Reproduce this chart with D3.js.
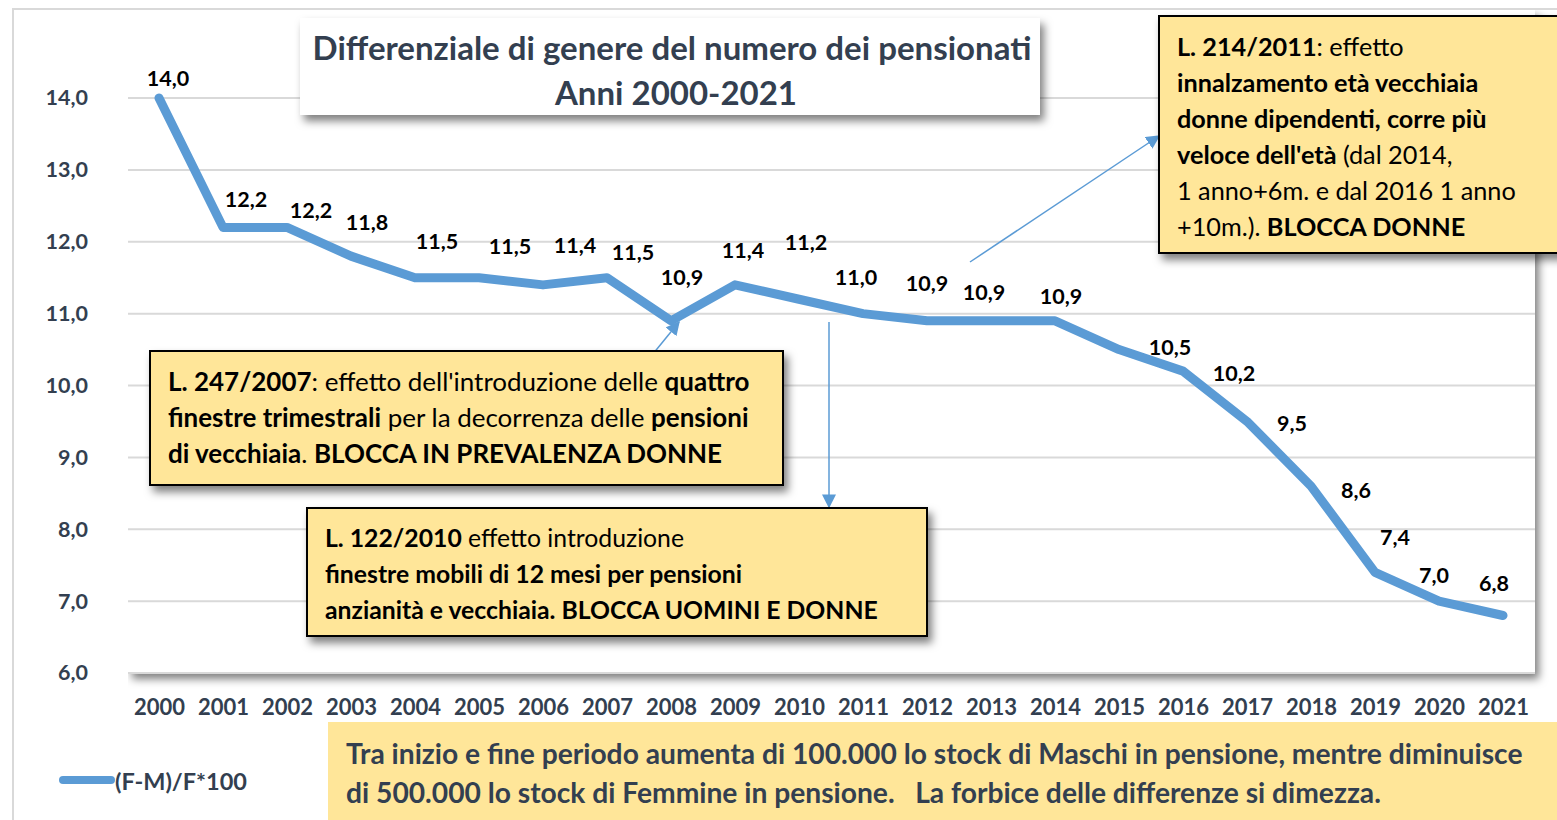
<!DOCTYPE html>
<html><head><meta charset="utf-8">
<script src="https://cdn.jsdelivr.net/npm/d3@7"></script>
<style>
body{margin:0;background:#fff;overflow:hidden}
svg{display:block;font-family:Lato,'Open Sans',sans-serif}
text{white-space:pre}
</style>
</head><body><svg id="c" width="1557" height="820"></svg>
<script>
// ---------------- DATA ----------------
const years = [2000,2001,2002,2003,2004,2005,2006,2007,2008,2009,2010,2011,2012,2013,2014,2015,2016,2017,2018,2019,2020,2021];
const values = [14.0,12.2,12.2,11.8,11.5,11.5,11.4,11.5,10.9,11.4,11.2,11.0,10.9,10.9,10.9,10.5,10.2,9.5,8.6,7.4,7.0,6.8];
const yTicks = [6,7,8,9,10,11,12,13,14];
const seriesName = "(F-M)/F*100";
const titleLines = ["Differenziale di genere del numero dei pensionati", "Anni 2000-2021"];
const noteA = [
  [["L. 247/2007",1],[": effetto dell'introduzione delle ",0],["quattro",1]],
  [["finestre trimestrali",1],[" per la decorrenza delle ",0],["pensioni",1]],
  [["di vecchiaia",1],[". ",0],["BLOCCA IN PREVALENZA DONNE",1]]
];
const noteB = [
  [["L. 122/2010",1],[" effetto introduzione",0]],
  [["finestre mobili di 12 mesi per pensioni",1]],
  [["anzianità e vecchiaia. BLOCCA UOMINI E DONNE",1]]
];
const noteC = [
  [["L. 214/2011",1],[": effetto",0]],
  [["innalzamento età vecchiaia",1]],
  [["donne dipendenti, corre più",1]],
  [["veloce dell'età",1],[" (dal 2014,",0]],
  [["1 anno+6m. e dal 2016 1 anno",0]],
  [["+10m.). ",0],["BLOCCA DONNE",1]]
];
const footerLines = [
  "Tra inizio e fine periodo aumenta di 100.000 lo stock di Maschi in pensione, mentre diminuisce",
  "di 500.000 lo stock di Femmine in pensione.   La forbice delle differenze si dimezza."
];
// label placement nudges (layout only)
const labelNudge = [[9,-20],[23,-28],[24,-17],[16,-34],[22,-37],[31,-32],[32,-40],[26,-26],[11,-44],[8,-35],[7,-57],[-7,-37],[0,-38],[-7,-29],[6,-25],[51,-3],[51,2],[45,2],[45,4],[20,-35],[-5,-26],[-9,-33]];

// ---------------- LAYOUT ----------------
const svg = d3.select("#c");
const W = 1557, H = 820;
const plot = {x0:128, x1:1535, y0:98, y1:673};
const TXT = "#333f50", BLUE = "#5b9bd5", GOLD = "#ffe699";

const defs = svg.append("defs");
const sh = defs.append("filter").attr("id","sh").attr("x","-10%").attr("y","-10%").attr("width","130%").attr("height","140%");
sh.append("feDropShadow").attr("dx",4).attr("dy",6).attr("stdDeviation",4).attr("flood-color","#000").attr("flood-opacity",0.5);
defs.append("marker").attr("id","arr").attr("viewBox","0 0 10 10").attr("refX",9).attr("refY",5)
  .attr("markerWidth",14).attr("markerHeight",14).attr("markerUnits","userSpaceOnUse").attr("orient","auto")
  .append("path").attr("d","M0,0 L10,5 L0,10 z").attr("fill",BLUE);
defs.append("clipPath").attr("id","plotclip").append("rect")
  .attr("x",plot.x0).attr("y",10).attr("width",W).attr("height",H);

// plot area: only right/bottom shadow visible
svg.append("g").attr("clip-path","url(#plotclip)")
  .append("rect").attr("x",plot.x0).attr("y",10).attr("width",plot.x1-plot.x0).attr("height",plot.y1-10)
  .attr("fill","#fff").attr("filter","url(#sh)");

// outer border
svg.append("rect").attr("x",13).attr("y",9).attr("width",W+40).attr("height",H+40)
  .attr("fill","none").attr("stroke","#d9d9d9").attr("stroke-width",2);

const x = d3.scalePoint().domain(years).range([127,1535]).padding(0.5);
const y = d3.scaleLinear().domain([6,14]).range([plot.y1, plot.y0]);
const fmt = d => d.toFixed(1).replace(".", ",");

// gridlines
svg.append("g").selectAll("line").data(yTicks).join("line")
  .attr("x1",plot.x0).attr("x2",plot.x1).attr("y1",d=>y(d)).attr("y2",d=>y(d))
  .attr("stroke","#d9d9d9").attr("stroke-width",2);

// y axis
const gy = svg.append("g").attr("transform",`translate(${plot.x0},0)`)
  .call(d3.axisLeft(y).tickValues(yTicks).tickFormat(fmt).tickSize(0).tickPadding(40));
gy.select(".domain").remove();
gy.selectAll("text").attr("fill",TXT).attr("font-family","Lato").attr("font-weight",700).attr("font-size",21.5);

// x axis
const gx = svg.append("g").attr("transform",`translate(0,${plot.y1})`)
  .call(d3.axisBottom(x).tickSize(0));
gx.select(".domain").remove();
gx.selectAll("text").attr("y",34).attr("dy","0.35em").attr("fill",TXT)
  .attr("font-family","Lato").attr("font-weight",700).attr("font-size",22);

// line
const line = d3.line().x((d,i)=>x(years[i])).y(d=>y(d));
svg.append("path").datum(values).attr("d",line).attr("fill","none")
  .attr("stroke",BLUE).attr("stroke-width",9).attr("stroke-linejoin","round").attr("stroke-linecap","round");

// data labels
svg.append("g").selectAll("text").data(values).join("text")
  .attr("x",(d,i)=>x(years[i])+labelNudge[i][0]).attr("y",(d,i)=>y(d)+labelNudge[i][1])
  .attr("text-anchor","middle").attr("dominant-baseline","central")
  .attr("font-weight",700).attr("font-size",21.5).attr("fill","#000").text(fmt);

// helper: fit font size so text has target width
function fitSize(textSel, target){
  textSel.attr("font-size",20);
  const w = textSel.node().getComputedTextLength();
  return 20*target/w;
}

// title
svg.append("rect").attr("x",300).attr("y",18).attr("width",740).attr("height",97).attr("fill","#fff").attr("filter","url(#sh)");
const t1 = svg.append("text").attr("x",672).attr("y",47).attr("text-anchor","middle").attr("dominant-baseline","central")
  .attr("font-weight",700).attr("fill",TXT).text(titleLines[0]);
const ts = fitSize(t1,719); t1.attr("font-size",ts);
svg.append("text").attr("x",676).attr("y",92).attr("text-anchor","middle").attr("dominant-baseline","central")
  .attr("font-weight",700).attr("fill",TXT).attr("font-size",ts).text(titleLines[1]);

// arrows
function arrow(a,b){
  svg.append("line").attr("x1",a[0]).attr("y1",a[1]).attr("x2",b[0]).attr("y2",b[1])
    .attr("stroke",BLUE).attr("stroke-width",1.5).attr("marker-end","url(#arr)");
}
arrow([648,360],[679,322]);
arrow([829,322],[829,507]);
arrow([970,262],[1159,136]);

// note boxes
function note(box, lines, tx, ty0, lh, refLine, refW){
  svg.append("rect").attr("x",box[0]).attr("y",box[1]).attr("width",box[2]).attr("height",box[3])
    .attr("fill",GOLD).attr("stroke","#000").attr("stroke-width",2).attr("filter","url(#sh)");
  const texts = lines.map((segs,i)=>{
    const t = svg.append("text").attr("x",tx).attr("y",ty0+i*lh).attr("dominant-baseline","central").attr("fill","#000");
    segs.forEach(s=>t.append("tspan").attr("font-weight",s[1]?700:400).text(s[0]));
    return t;
  });
  const fs = fitSize(texts[refLine], refW);
  texts.forEach(t=>t.attr("font-size",fs));
}
note([150,351,633,134], noteA, 168, 381, 36, 1, 581);
note([307,508,620,128], noteB, 325, 537, 36, 2, 553);
note([1159,16,430,237], noteC, 1177, 46, 36, 4, 339);

// footer
svg.append("rect").attr("x",328).attr("y",722).attr("width",W-328).attr("height",H-722).attr("fill",GOLD);
const f1 = svg.append("text").attr("x",346).attr("y",753).attr("dominant-baseline","central")
  .attr("font-weight",700).attr("fill",TXT).text(footerLines[0]);
const fs = fitSize(f1,1177); f1.attr("font-size",fs);
svg.append("text").attr("x",346).attr("y",792).attr("dominant-baseline","central")
  .attr("font-weight",700).attr("fill",TXT).attr("font-size",fs).text(footerLines[1]);

// legend
svg.append("line").attr("x1",63).attr("x2",111).attr("y1",780).attr("y2",780)
  .attr("stroke",BLUE).attr("stroke-width",8).attr("stroke-linecap","round");
const lg = svg.append("text").attr("x",115).attr("y",781).attr("dominant-baseline","central")
  .attr("font-weight",700).attr("fill",TXT).text(seriesName);
lg.attr("font-size",fitSize(lg,132));
</script>
</body></html>
